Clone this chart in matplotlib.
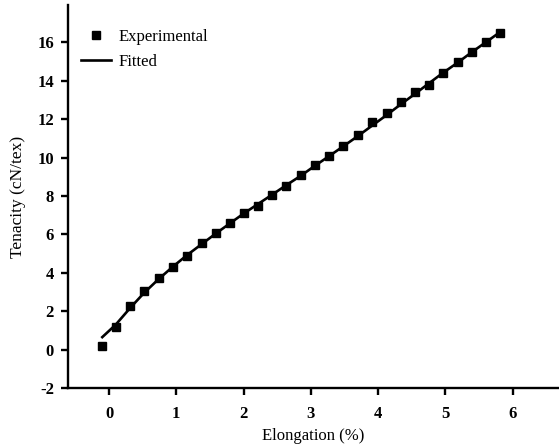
import matplotlib.pyplot as plt

# elongation (%) and tenacity
elongation = [-0.10, 0.10, 0.31, 0.52, 0.74, 0.95, 1.16, 1.38, 1.59, 1.80,
              2.00, 2.21, 2.43, 2.63, 2.85, 3.06, 3.27, 3.48, 3.70, 3.91,
              4.13, 4.34, 4.55, 4.75, 4.96, 5.19, 5.39, 5.60, 5.82]
tenacity_exp = [0.19, 1.18, 2.27, 3.05, 3.73, 4.30, 4.88, 5.55, 6.05, 6.60,
                7.10, 7.48, 8.05, 8.52, 9.10, 9.60, 10.10, 10.60, 11.20, 11.85,
                12.30, 12.90, 13.40, 13.80, 14.40, 15.00, 15.50, 16.00, 16.50]
tenacity_fit = [0.65, 1.30, 2.15, 2.95, 3.68, 4.32, 4.92, 5.50, 6.05, 6.58,
                7.08, 7.57, 8.08, 8.55, 9.05, 9.57, 10.07, 10.58, 11.12, 11.66,
                12.22, 12.78, 13.32, 13.85, 14.40, 14.96, 15.48, 16.00, 16.55]

xticks = [0, 1, 2, 3, 4, 5, 6]
yticks = [-2, 0, 2, 4, 6, 8, 10, 12, 14, 16]

plt.rcParams['font.family'] = ['Liberation Serif', 'DejaVu Serif']
plt.rcParams['axes.unicode_minus'] = False

fig = plt.figure(figsize=(5.59, 4.46), dpi=100)
ax = fig.add_axes([0.1216, 0.130, 0.8784, 0.859])

ax.plot(elongation, tenacity_exp, 's', color='black', markersize=5.5, label='Experimental')
ax.plot(elongation, tenacity_fit, '-', color='black', linewidth=1.9, label='Fitted')

ax.set_xlim(-0.61, 6.69)
ax.set_ylim(-2, 17.95)
ax.set_xticks(xticks)
ax.set_yticks(yticks)

for s in ['top', 'right']:
    ax.spines[s].set_visible(False)
for s in ['left', 'bottom']:
    ax.spines[s].set_linewidth(1.7)
ax.tick_params(direction='out', length=5, width=1.7, labelsize=12)
ax.tick_params(axis='x', pad=8)
ax.tick_params(axis='y', pad=5)
for lab in ax.get_xticklabels() + ax.get_yticklabels():
    lab.set_fontweight('bold')

ax.set_xlabel('Elongation (%)', fontsize=12, labelpad=4)
ax.set_ylabel('Tenacity (cN/tex)', fontsize=12.5, labelpad=8)

ax.legend(loc='upper left', bbox_to_anchor=(0.012, 0.955), frameon=False,
          fontsize=12, handlelength=1.8, handletextpad=0.45, borderaxespad=0.0,
          labelspacing=0.55)

fig.savefig('out.png', dpi=100)
